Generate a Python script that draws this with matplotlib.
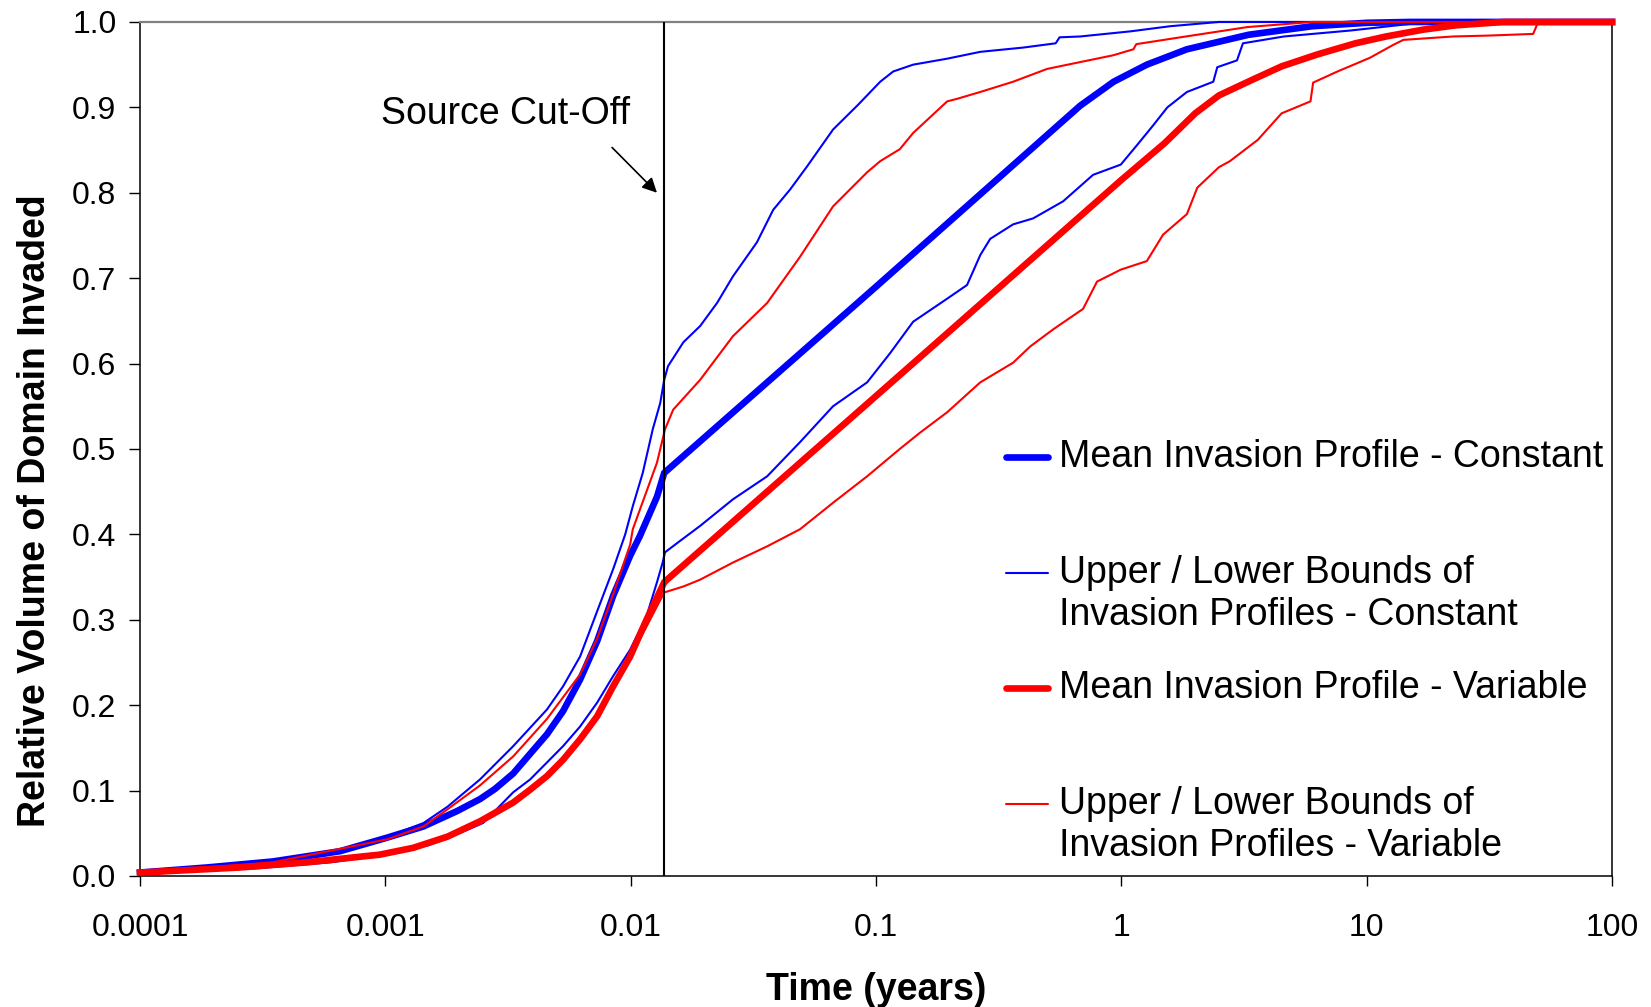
import matplotlib
matplotlib.use("Agg")
import matplotlib.pyplot as plt
from matplotlib.lines import Line2D
from matplotlib.ticker import NullLocator

plt.rcParams["font.family"] = ["Liberation Sans", "DejaVu Sans"]

# source switched off after 5 days
CUTOFF = 5 / 365

# mean invasion profile, constant source
t_mean_const = [0.0001, 0.000188, 0.000348, 0.000653, 0.00102, 0.00143, 0.00196, 0.00243,
                0.0028, 0.00332, 0.00389, 0.00456, 0.0053, 0.00622, 0.0073, 0.00848, 0.00995,
                0.0109, 0.0128, 0.0137, 0.1, 0.5, 0.68, 0.93, 1.27, 1.85, 3.3, 6.0, 10, 15, 100]
v_mean_const = [0.004, 0.010, 0.017, 0.029, 0.045, 0.058, 0.076, 0.090,
                0.102, 0.120, 0.143, 0.166, 0.193, 0.230, 0.275, 0.328, 0.375,
                0.398, 0.444, 0.472, 0.690, 0.868, 0.902, 0.930, 0.950, 0.968, 0.985, 0.995, 0.999, 1.0, 1.0]

# upper bound, constant source
t_upper_const = [0.0001, 0.000188, 0.000348, 0.000653, 0.00102, 0.00143, 0.00179, 0.00243,
                 0.00332, 0.00456, 0.0053, 0.00622, 0.0073, 0.0085, 0.0095, 0.0102, 0.0112,
                 0.0123, 0.0132, 0.0137, 0.0142, 0.0164, 0.0192, 0.0225, 0.0261, 0.0327,
                 0.0381, 0.0447, 0.0524, 0.0668, 0.0845, 0.104, 0.1175, 0.1417, 0.195,
                 0.266, 0.398, 0.54, 0.56, 0.68, 1.09, 1.58, 2.5, 100]
v_upper_const = [0.004, 0.011, 0.018, 0.030, 0.046, 0.062, 0.081, 0.113,
                 0.152, 0.195, 0.222, 0.257, 0.310, 0.360, 0.400, 0.433, 0.472,
                 0.523, 0.554, 0.581, 0.597, 0.625, 0.644, 0.671, 0.702, 0.742,
                 0.780, 0.804, 0.831, 0.874, 0.903, 0.930, 0.942, 0.950, 0.957,
                 0.965, 0.970, 0.975, 0.982, 0.983, 0.989, 0.995, 1.0, 1.0]

# lower bound, constant source
t_lower_const = [0.0001, 0.0003, 0.0006, 0.001, 0.0015, 0.002, 0.0025, 0.00275, 0.00332,
                 0.00389, 0.00456, 0.0053, 0.00622, 0.0073, 0.00848, 0.00995, 0.0116, 0.0128,
                 0.0135, 0.0138, 0.0155, 0.0192, 0.0261, 0.036, 0.049, 0.0668, 0.092, 0.114,
                 0.1417, 0.195, 0.235, 0.266, 0.292, 0.362, 0.437, 0.579, 0.767, 0.995, 1.16,
                 1.34, 1.54, 1.85, 2.37, 2.46, 2.96, 3.13, 4.6, 8.6, 16.5, 100]
v_lower_const = [0.003, 0.009, 0.016, 0.025, 0.036, 0.050, 0.062, 0.074, 0.098,
                 0.113, 0.133, 0.152, 0.175, 0.203, 0.234, 0.265, 0.304, 0.344,
                 0.367, 0.379, 0.390, 0.410, 0.441, 0.468, 0.508, 0.550, 0.578, 0.612,
                 0.649, 0.676, 0.692, 0.727, 0.746, 0.763, 0.770, 0.790, 0.821, 0.833, 0.856,
                 0.878, 0.900, 0.918, 0.930, 0.947, 0.955, 0.975, 0.983, 0.990, 0.999, 1.0]

# mean invasion profile, variable source
t_mean_var = [0.0001, 0.000256, 0.00048, 0.00095, 0.0013, 0.00179, 0.00243, 0.00332,
              0.00389, 0.00456, 0.0053, 0.00622, 0.0073, 0.00848, 0.00995, 0.0116, 0.0137,
              0.1, 1.0, 1.5, 2.0, 2.5, 3.4, 4.5, 6.3, 9, 12, 17, 23, 36, 100]
v_mean_var = [0.004, 0.010, 0.016, 0.025, 0.033, 0.046, 0.064, 0.086,
              0.101, 0.117, 0.136, 0.160, 0.187, 0.222, 0.257, 0.300, 0.344,
              0.562, 0.815, 0.858, 0.893, 0.914, 0.932, 0.948, 0.962, 0.975, 0.983, 0.991, 0.996, 1.0, 1.0]

# upper bound, variable source
t_upper_var = [0.0001, 0.000348, 0.00102, 0.00143, 0.00179, 0.00243, 0.00332, 0.00456,
               0.00622, 0.0073, 0.00848, 0.00995, 0.0102, 0.0128, 0.0138, 0.0149, 0.0192,
               0.0261, 0.036, 0.049, 0.0668, 0.092, 0.104, 0.125, 0.1417, 0.195, 0.214,
               0.266, 0.362, 0.498, 0.679, 0.927, 1.12, 1.15, 1.74, 3.26, 6.0, 100]
v_upper_var = [0.004, 0.016, 0.043, 0.058, 0.078, 0.106, 0.140, 0.184,
               0.236, 0.278, 0.330, 0.388, 0.406, 0.484, 0.523, 0.546, 0.581,
               0.632, 0.671, 0.725, 0.784, 0.824, 0.837, 0.851, 0.870, 0.907, 0.910,
               0.918, 0.930, 0.945, 0.953, 0.961, 0.968, 0.974, 0.982, 0.994, 1.0, 1.0]

# lower bound, variable source
t_lower_var = [0.0001, 0.00026, 0.00048, 0.00095, 0.0013, 0.00179, 0.00243, 0.00332,
               0.00456, 0.00622, 0.00848, 0.0116, 0.0137, 0.0164, 0.0192, 0.0261, 0.036,
               0.049, 0.0668, 0.092, 0.125, 0.151, 0.195, 0.266, 0.362, 0.425, 0.527,
               0.698, 0.796, 0.995, 1.27, 1.48, 1.85, 2.04, 2.5, 2.77, 3.6, 4.5, 5.9,
               6.05, 7.6, 10.3, 12.8, 14.1, 22.5, 31, 47.7, 50, 100]
v_lower_var = [0.003, 0.009, 0.015, 0.024, 0.032, 0.045, 0.062, 0.084,
               0.115, 0.158, 0.219, 0.292, 0.332, 0.339, 0.347, 0.367, 0.386,
               0.406, 0.437, 0.468, 0.500, 0.519, 0.543, 0.578, 0.601, 0.620, 0.640,
               0.664, 0.696, 0.710, 0.720, 0.751, 0.775, 0.806, 0.830, 0.837, 0.862, 0.893, 0.907,
               0.929, 0.942, 0.958, 0.973, 0.979, 0.983, 0.984, 0.986, 1.0, 1.0]

x_ticks = [0.0001, 0.001, 0.01, 0.1, 1, 10, 100]
x_tick_labels = ["0.0001", "0.001", "0.01", "0.1", "1", "10", "100"]
y_ticks = [0.0, 0.1, 0.2, 0.3, 0.4, 0.5, 0.6, 0.7, 0.8, 0.9, 1.0]

legend_labels = [
    "Mean Invasion Profile - Constant",
    "Upper / Lower Bounds of\nInvasion Profiles - Constant",
    "Mean Invasion Profile - Variable",
    "Upper / Lower Bounds of\nInvasion Profiles - Variable",
]

BLUE = "#0000ff"
RED = "#ff0000"
THICK = 4.8
THIN = 1.5
TEXT_SIZE = 27


def main() -> None:
    fig = plt.figure(figsize=(16.51, 10.07), dpi=100)
    ax = fig.add_axes([0.0848, 0.1301, 0.8916, 0.8481])

    line_kw = dict(zorder=3, clip_on=False, solid_joinstyle="round")
    ax.plot(t_mean_const, v_mean_const, color=BLUE, lw=THICK, **line_kw)
    ax.plot(t_upper_const, v_upper_const, color=BLUE, lw=THIN, **line_kw)
    ax.plot(t_lower_const, v_lower_const, color=BLUE, lw=THIN, **line_kw)
    ax.plot(t_mean_var, v_mean_var, color=RED, lw=THICK, **line_kw)
    ax.plot(t_upper_var, v_upper_var, color=RED, lw=THIN, **line_kw)
    ax.plot(t_lower_var, v_lower_var, color=RED, lw=THIN, **line_kw)

    ax.axvline(CUTOFF, color="black", lw=1.5, zorder=4)
    ax.annotate("", xy=(0.0128, 0.80), xytext=(0.0084, 0.853),
                arrowprops=dict(arrowstyle="-|>", color="black", lw=1.2,
                                mutation_scale=22, shrinkA=0, shrinkB=0))
    ax.text(0.00308, 0.892, "Source Cut-Off", fontsize=TEXT_SIZE,
            ha="center", va="center")

    ax.set_xscale("log")
    ax.set_xlim(1e-4, 100)
    ax.set_ylim(0, 1)
    ax.set_xticks(x_ticks)
    ax.set_xticklabels(x_tick_labels)
    ax.xaxis.set_minor_locator(NullLocator())
    ax.set_yticks(y_ticks)
    ax.set_yticklabels([f"{v:.1f}" for v in y_ticks])
    ax.tick_params(axis="x", direction="out", length=7.5, width=1, labelsize=23, pad=19)
    ax.tick_params(axis="y", direction="out", length=8, width=1, labelsize=23, pad=9)

    for side in ("left", "bottom", "right"):
        ax.spines[side].set_linewidth(1.1)
        ax.spines[side].set_color("black")
    ax.spines["top"].set_color("#808080")
    ax.spines["top"].set_linewidth(1.6)

    ax.set_xlabel("Time (years)", fontsize=TEXT_SIZE, fontweight="bold", labelpad=21)
    fig.text(0.0215, 0.4925, "Relative Volume of Domain Invaded", rotation=90,
             fontsize=TEXT_SIZE, fontweight="bold", ha="center", va="center")

    # legend keys drawn by hand so the key sits on the first text line
    handles = [(BLUE, THICK), (BLUE, THIN), (RED, THICK), (RED, THIN)]
    rows_y = [0.4905, 0.3545, 0.2205, 0.0845]
    line_step = 0.049
    for (color, lw), label, y in zip(handles, legend_labels, rows_y):
        ax.add_line(Line2D([0.588, 0.617], [y, y], color=color, lw=lw,
                           solid_capstyle="round", transform=ax.transAxes))
        for i, part in enumerate(label.split("\n")):
            ax.text(0.624, y - i * line_step, part, fontsize=TEXT_SIZE,
                    ha="left", va="center", transform=ax.transAxes)

    fig.savefig("out.png", dpi=100)
    plt.close(fig)


if __name__ == "__main__":
    main()
